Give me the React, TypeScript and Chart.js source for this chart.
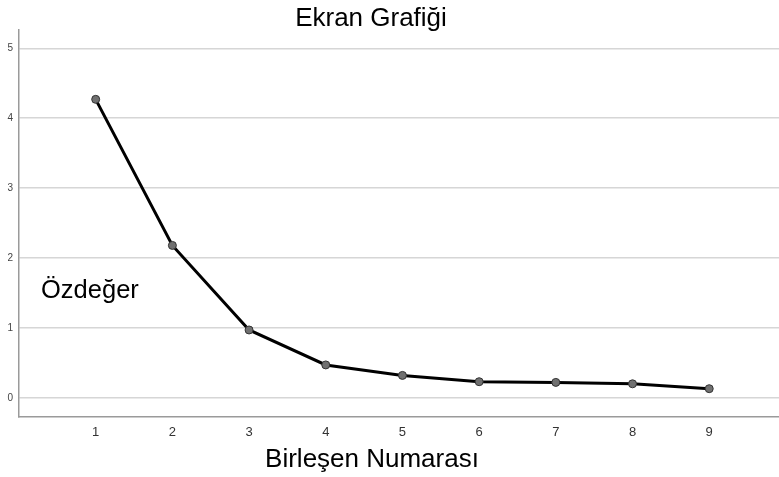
import React, { useEffect, useRef } from "react";
import { Chart, registerables } from "chart.js";

Chart.register(...registerables);

const componentNumbers = [1, 2, 3, 4, 5, 6, 7, 8, 9];
const eigenvalues = [4.27, 2.18, 0.97, 0.47, 0.32, 0.23, 0.22, 0.2, 0.13];
const yTickValues = [0, 1, 2, 3, 4, 5];
const xTickValues = [1, 2, 3, 4, 5, 6, 7, 8, 9];
const chartTitle = "Ekran Grafiği";
const xTitle = "Birleşen Numarası";
const yTitle = "Özdeğer";

const FONT = "'Liberation Sans', Arial, Helvetica, sans-serif";

const titlesPlugin = {
  id: "customTitles",
  afterDraw(chart: any) {
    const ctx = chart.ctx;
    ctx.save();
    ctx.fillStyle = "#000";
    ctx.textBaseline = "alphabetic";
    ctx.textAlign = "center";
    ctx.font = `26px ${FONT}`;
    ctx.fillText(chartTitle, 371, 26);
    ctx.font = `26px ${FONT}`;
    ctx.fillText(xTitle, 372, 467);
    ctx.textAlign = "left";
    ctx.font = `25.5px ${FONT}`;
    ctx.fillText(yTitle, 41, 298);
    ctx.restore();
  },
};

export default function App() {
  const ref = useRef<HTMLCanvasElement | null>(null);
  useEffect(() => {
    if (!ref.current) return;
    const chart = new Chart(ref.current, {
      type: "line",
      data: {
        datasets: [
          {
            data: componentNumbers.map((x, i) => ({ x, y: eigenvalues[i] })),
            borderColor: "#000",
            borderWidth: 3,
            pointRadius: 4,
            pointBackgroundColor: "#707070",
            pointBorderColor: "#333",
            pointBorderWidth: 1,
            tension: 0,
          },
        ],
      },
      options: {
        animation: false,
        responsive: false,
        devicePixelRatio: 1,
        layout: { padding: { top: 30, right: 0, left: 0, bottom: 0 } },
        plugins: {
          legend: { display: false },
          title: { display: false },
          tooltip: { enabled: false },
        },
        scales: {
          x: {
            type: "linear",
            min: 0,
            max: 9.91,
            afterFit: (s: any) => {
              s.height = 60;
            },
            afterBuildTicks: (s: any) => {
              s.ticks = xTickValues.map((v) => ({ value: v }));
            },
            grid: { display: false, drawTicks: false },
            border: { display: true, color: "#9a9a9a", width: 1.5 },
            ticks: {
              color: "#333",
              font: { family: FONT, size: 13 },
              padding: 8,
              maxRotation: 0,
              autoSkip: false,
            },
          },
          y: {
            type: "linear",
            min: -0.275,
            max: 5.262,
            afterFit: (s: any) => {
              s.width = 19;
            },
            afterBuildTicks: (s: any) => {
              s.ticks = yTickValues.map((v) => ({ value: v }));
            },
            grid: { display: true, color: "#d6d6d6", lineWidth: 1.5, drawTicks: false },
            border: { display: true, color: "#9a9a9a", width: 1.5 },
            ticks: {
              color: "#444",
              font: { family: FONT, size: 10 },
              padding: 6,
              autoSkip: false,
            },
          },
        },
      },
      plugins: [titlesPlugin],
    } as any);
    return () => chart.destroy();
  }, []);
  return (
    <div
      style={{
        position: "absolute",
        left: 0,
        top: 0,
        width: 779,
        height: 477,
        overflow: "hidden",
        background: "#fff",
      }}
    >
      <canvas ref={ref} width={784} height={477} style={{ display: "block" }} />
    </div>
  );
}
